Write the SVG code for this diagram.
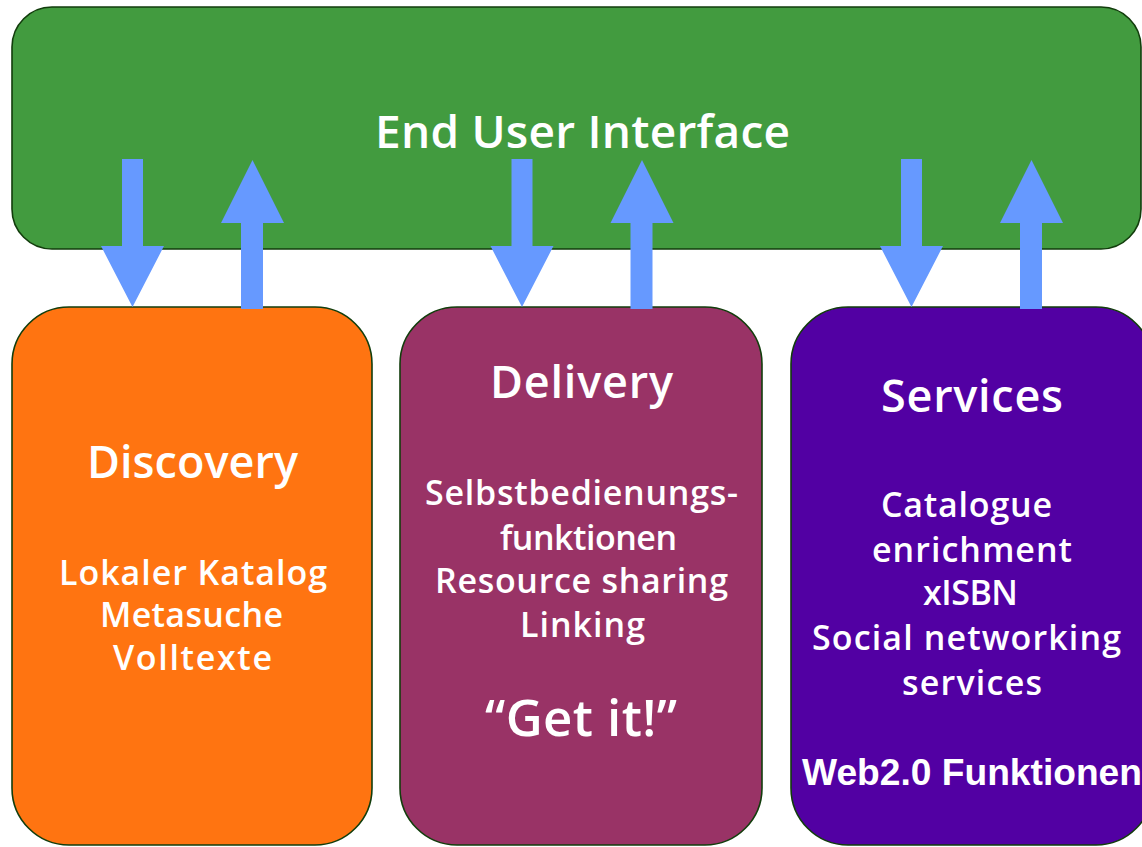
<svg xmlns="http://www.w3.org/2000/svg" xmlns:xlink="http://www.w3.org/1999/xlink" width="1142" height="847" viewBox="0 0 1142 847">
  <style>
    .box { stroke: #123d0c; stroke-width: 1.6; }
    .t { font-family: "Open Sans", "Liberation Sans", sans-serif; font-weight: 600; fill: #ffffff; text-anchor: middle; }
    .h { font-size: 45px; }
    .b { font-size: 34px; }
    .ar { font-family: "Liberation Sans", Arial, sans-serif; font-weight: bold; font-size: 36px; fill: #ffffff; text-anchor: middle; }
    .arrow { fill: #6699ff; }
  </style>
  <defs>
    <path id="down" class="arrow" d="M122,159 H143 V246 H164 L132.5,307 L101,246 H122 Z"/>
    <path id="up" class="arrow" d="M252.5,160 L284,223 H263 V309 H241 V223 H221 Z"/>
  </defs>
  <rect width="1142" height="847" fill="#ffffff"/>

  <g id="end-user-interface">
    <rect class="box" x="12" y="7" width="1129" height="242" rx="40" ry="40" fill="#429b3f"/>
    <text class="t" x="582.5" y="148" font-size="46" textLength="415" lengthAdjust="spacing">End User Interface</text>
  </g>

  <g id="discovery">
    <rect class="box" x="12" y="307" width="360" height="538" rx="57" ry="57" fill="#ff7411"/>
    <text class="t h" x="192.5" y="478" textLength="211" lengthAdjust="spacing">Discovery</text>
    <text class="t b" x="193" y="585" textLength="268" lengthAdjust="spacing">Lokaler Katalog</text>
    <text class="t b" x="191.5" y="627" textLength="183" lengthAdjust="spacing">Metasuche</text>
    <text class="t b" x="192.5" y="670" textLength="159" lengthAdjust="spacing">Volltexte</text>
  </g>

  <g id="delivery">
    <rect class="box" x="400" y="307" width="362" height="538" rx="57" ry="57" fill="#993366"/>
    <text class="t h" x="581.5" y="398" textLength="183" lengthAdjust="spacing">Delivery</text>
    <text class="t b" x="581.5" y="505" textLength="313" lengthAdjust="spacing">Selbstbedienungs-</text>
    <text class="t b" x="588.5" y="550" textLength="177" lengthAdjust="spacing">funktionen</text>
    <text class="t b" x="581.5" y="593" textLength="293" lengthAdjust="spacing">Resource sharing</text>
    <text class="t b" x="582.5" y="637" textLength="125" lengthAdjust="spacing">Linking</text>
    <text class="t" x="581" y="736" font-size="51" textLength="192" lengthAdjust="spacing">“Get it!”</text>
  </g>

  <g id="services">
    <rect class="box" x="791" y="307" width="362" height="538" rx="57" ry="57" fill="#5200a3"/>
    <text class="t h" x="972" y="412" textLength="182" lengthAdjust="spacing">Services</text>
    <text class="t b" x="966.5" y="517" textLength="171" lengthAdjust="spacing">Catalogue</text>
    <text class="t b" x="972" y="562" textLength="200" lengthAdjust="spacing">enrichment</text>
    <text class="t b" x="970.5" y="605" textLength="95" lengthAdjust="spacing">xISBN</text>
    <text class="t b" x="966.5" y="650" textLength="309" lengthAdjust="spacing">Social networking</text>
    <text class="t b" x="972" y="695" textLength="140" lengthAdjust="spacing">services</text>
    <text class="ar" x="972" y="785" textLength="340" lengthAdjust="spacingAndGlyphs">Web2.0 Funktionen</text>
  </g>

  <g id="connectors">
    <use xlink:href="#down"/>
    <use xlink:href="#up"/>
    <use xlink:href="#down" transform="translate(389.5,0)"/>
    <use xlink:href="#up" transform="translate(389.5,0)"/>
    <use xlink:href="#down" transform="translate(779,0)"/>
    <use xlink:href="#up" transform="translate(779,0)"/>
  </g>
</svg>
